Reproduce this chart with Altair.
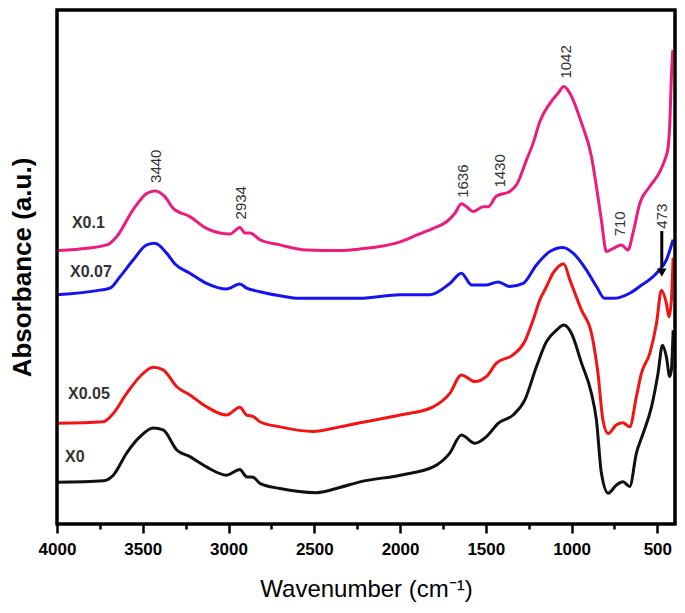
import altair as alt
import pandas as pd

# ---- data (wavenumber cm-1, absorbance a.u.) ----
x01_wn = [4000, 3866, 3710, 3652, 3557, 3477, 3429, 3371, 3322, 3225, 3128, 3050, 2992, 2934, 2904, 2875,
          2817, 2700, 2545, 2351, 2234, 1999, 1904, 1807, 1729, 1681, 1642, 1612, 1574, 1516, 1487, 1438,
          1360, 1321, 1263, 1224, 1185, 1127, 1079, 1045, 1010, 942, 884, 855, 826, 797, 758, 709, 671,
          642, 602, 545, 486, 457, 438, 428, 418, 410]
x01_a = [0.532, 0.535, 0.543, 0.559, 0.611, 0.643, 0.648, 0.637, 0.614, 0.598, 0.575, 0.566, 0.564, 0.577,
         0.566, 0.566, 0.553, 0.543, 0.533, 0.532, 0.535, 0.549, 0.562, 0.575, 0.588, 0.604, 0.623, 0.617,
         0.608, 0.617, 0.617, 0.638, 0.647, 0.660, 0.708, 0.741, 0.783, 0.818, 0.838, 0.851, 0.838, 0.780,
         0.715, 0.656, 0.591, 0.530, 0.536, 0.543, 0.533, 0.566, 0.624, 0.656, 0.685, 0.708, 0.731, 0.773,
         0.870, 0.922]

x007_wn = [4000, 3749, 3691, 3633, 3555, 3477, 3429, 3361, 3312, 3225, 3128, 3011, 2934, 2895, 2817, 2700,
           2584, 2234, 1999, 1826, 1710, 1642, 1583, 1496, 1428, 1360, 1283, 1205, 1127, 1050, 991, 913,
           855, 807, 758, 661, 603, 505, 447, 408]
x007_a = [0.446, 0.455, 0.459, 0.481, 0.514, 0.543, 0.546, 0.527, 0.506, 0.488, 0.468, 0.457, 0.467, 0.459,
          0.452, 0.444, 0.439, 0.439, 0.446, 0.446, 0.468, 0.488, 0.465, 0.465, 0.471, 0.462, 0.468, 0.504,
          0.530, 0.538, 0.527, 0.494, 0.462, 0.439, 0.439, 0.449, 0.462, 0.488, 0.514, 0.553]

x005_wn = [4000, 3730, 3672, 3594, 3516, 3439, 3381, 3302, 3225, 3128, 3011, 2934, 2895, 2856, 2817, 2700,
           2506, 2351, 2234, 1999, 1807, 1710, 1642, 1564, 1496, 1438, 1341, 1273, 1224, 1185, 1146, 1108,
           1045, 1010, 942, 884, 846, 817, 787, 738, 700, 661, 622, 593, 544, 505, 476, 447, 432, 418, 408]
x005_a = [0.196, 0.199, 0.215, 0.254, 0.287, 0.305, 0.300, 0.267, 0.251, 0.228, 0.212, 0.227, 0.212, 0.209,
          0.199, 0.189, 0.180, 0.189, 0.197, 0.212, 0.228, 0.254, 0.290, 0.277, 0.287, 0.313, 0.329, 0.355,
          0.397, 0.436, 0.462, 0.488, 0.506, 0.475, 0.416, 0.371, 0.293, 0.202, 0.176, 0.193, 0.197, 0.189,
          0.248, 0.293, 0.332, 0.390, 0.455, 0.429, 0.403, 0.436, 0.518]

x0_wn = [4000, 3730, 3672, 3594, 3516, 3439, 3381, 3302, 3225, 3128, 3011, 2934, 2895, 2856, 2817, 2700,
         2487, 2351, 2234, 1999, 1807, 1710, 1642, 1564, 1496, 1428, 1341, 1273, 1205, 1146, 1088, 1045,
         1001, 942, 884, 855, 826, 787, 738, 700, 661, 622, 583, 534, 496, 470, 447, 428, 418, 408]
x0_a = [0.081, 0.084, 0.095, 0.138, 0.170, 0.187, 0.183, 0.144, 0.131, 0.111, 0.095, 0.106, 0.092, 0.091,
        0.079, 0.069, 0.061, 0.071, 0.082, 0.095, 0.111, 0.138, 0.173, 0.157, 0.170, 0.196, 0.212, 0.241,
        0.306, 0.355, 0.377, 0.387, 0.371, 0.313, 0.254, 0.202, 0.099, 0.060, 0.076, 0.082, 0.073, 0.138,
        0.176, 0.228, 0.293, 0.348, 0.325, 0.287, 0.300, 0.377]

series_names = ["X0", "X0.05", "X0.07", "X0.1"]
series_colors = ["#111111", "#F01414", "#1414F0", "#EC1C7C"]

# sample labels
label_text = ["X0.1", "X0.07", "X0.05", "X0"]
label_wn = [3913, 3924, 3936, 3953]
label_a = [0.586, 0.490, 0.253, 0.130]

# peak annotations
peak_text = ["3440", "2934", "1636", "1430", "1042", "710", "473"]
peak_wn = [3423, 2928, 1634, 1418, 1034, 719, 474]
peak_a = [0.696, 0.625, 0.667, 0.687, 0.899, 0.584, 0.599]

# arrow at 473
arrow_wn = [474]
arrow_top = [0.570]
arrow_bottom = [0.500]
arrow_head = [0.489]

major_ticks = [4000, 3500, 3000, 2500, 2000, 1500, 1000, 500]
minor_ticks = [3750, 3250, 2750, 2250, 1750, 1250, 750]

FONT = "Liberation Sans"
W, H = 618, 514

rows = []
for name, wn, a in [("X0", x0_wn, x0_a), ("X0.05", x005_wn, x005_a),
                    ("X0.07", x007_wn, x007_a), ("X0.1", x01_wn, x01_a)]:
    for w, v in zip(wn, a):
        rows.append({"series": name, "wn": w, "a": v})
spec_df = pd.DataFrame(rows)
lab_df = pd.DataFrame({"t": label_text, "wn": label_wn, "a": label_a})
peak_df = pd.DataFrame({"t": peak_text, "wn": peak_wn, "a": peak_a})
arrow_df = pd.DataFrame({"wn": arrow_wn, "top": arrow_top, "bottom": arrow_bottom, "head": arrow_head})

tick_values = sorted(major_ticks + minor_ticks, reverse=True)

xscale = alt.Scale(domain=[4000, 397], nice=False, zero=False)
yscale = alt.Scale(domain=[0, 1], nice=False, zero=False)

xaxis = alt.Axis(
    values=tick_values,
    labelExpr="datum.value % 500 === 0 ? datum.label : ''",
    tickSize={"condition": {"test": "datum.value % 500 === 0", "value": 9}, "value": 5},
    tickWidth=2.5, tickColor="black", domain=False, grid=False,
    labelFont=FONT, labelFontSize=17, labelFontWeight="bold", labelColor="black",
    labelPadding=8, labelFlush=False,
    title="Wavenumber (cm⁻¹)", titleFont=FONT, titleFontSize=24, titleFontWeight="normal",
    titleColor="black", titlePadding=20, format="d",
)
yaxis = alt.Axis(
    labels=False, ticks=False, domain=False, grid=False,
    title="Absorbance (a.u.)", titleFont=FONT, titleFontSize=26, titleFontWeight="bold",
    titleColor="black", titlePadding=22,
)

lines = alt.Chart(spec_df).mark_line(strokeWidth=3, interpolate="monotone").encode(
    x=alt.X("wn:Q", scale=xscale, axis=xaxis),
    y=alt.Y("a:Q", scale=yscale, axis=yaxis),
    color=alt.Color("series:N", scale=alt.Scale(domain=series_names, range=series_colors), legend=None),
    detail="series:N",
)

frame = alt.Chart(spec_df).mark_rect(filled=False, stroke="black", strokeWidth=3).encode(
    x=alt.value(0), x2=alt.value(W), y=alt.value(0), y2=alt.value(H)
).transform_filter("datum.wn === 4000 && datum.series === 'X0'")

labels = alt.Chart(lab_df).mark_text(
    align="left", baseline="middle", font=FONT, fontSize=16, fontWeight="bold", color="#333333"
).encode(x=alt.X("wn:Q", scale=xscale), y=alt.Y("a:Q", scale=yscale), text="t:N")

peaks = alt.Chart(peak_df).mark_text(
    align="center", baseline="middle", angle=270, font=FONT, fontSize=15, color="#333333"
).encode(x=alt.X("wn:Q", scale=xscale), y=alt.Y("a:Q", scale=yscale), text="t:N")

arrow = alt.Chart(arrow_df).mark_rule(strokeWidth=3, color="black").encode(
    x=alt.X("wn:Q", scale=xscale), y=alt.Y("top:Q", scale=yscale), y2="bottom:Q"
)
head = alt.Chart(arrow_df).mark_point(shape="triangle-down", filled=True, size=90, color="black", opacity=1).encode(
    x=alt.X("wn:Q", scale=xscale), y=alt.Y("head:Q", scale=yscale)
)

chart = alt.layer(lines, labels, peaks, arrow, head, frame).properties(
    width=W, height=H,
    padding={"left": 49, "top": 2, "right": 2, "bottom": 80},
    autosize="none",
    background="white",
).configure_view(stroke="black", strokeWidth=3)

chart.save("out.html", embed_options={"renderer": "svg", "actions": False})
